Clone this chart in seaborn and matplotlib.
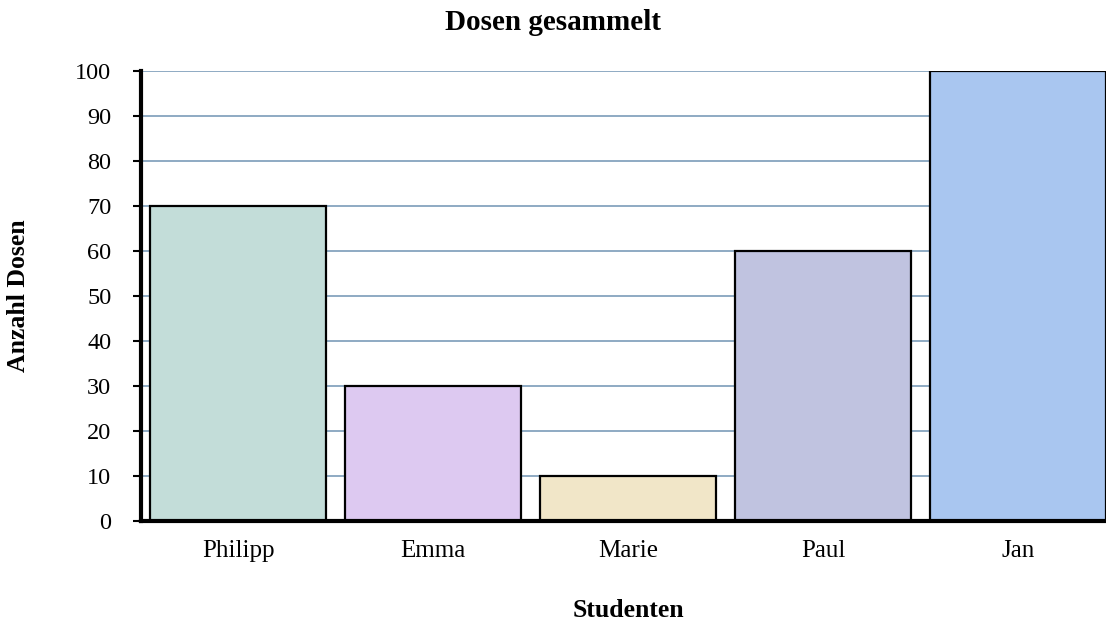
import matplotlib
matplotlib.use("Agg")
import matplotlib.pyplot as plt
import seaborn as sns
import pandas as pd

studenten = ["Philipp", "Emma", "Marie", "Paul", "Jan"]
dosen = [70, 30, 10, 60, 100]
farben = ["#C3DDD9", "#DDC9F1", "#F1E6C8", "#C0C3E0", "#A9C6F0"]
y_ticks = list(range(0, 101, 10))

sns.set_style("white")
plt.rcParams["font.family"] = ["Liberation Serif", "DejaVu Serif"]
plt.rcParams["text.color"] = "black"
plt.rcParams["xtick.color"] = "black"
plt.rcParams["ytick.color"] = "black"
plt.rcParams["axes.labelcolor"] = "black"

df = pd.DataFrame({"Studenten": studenten, "Dosen": dosen})

fig = plt.figure(figsize=(11.06, 6.35), dpi=100)
# Achse reicht rechts etwas über den Bildrand hinaus (wie im Original)
ax = fig.add_axes([140.5 / 1106, 114 / 635, 975 / 1106, 450 / 635])

sns.barplot(data=df, x="Studenten", y="Dosen", hue="Studenten",
            palette=farben, order=studenten, hue_order=studenten,
            width=0.9, saturation=1, edgecolor="black", linewidth=1.6,
            legend=False, ax=ax, zorder=3)

ax.set_xlim(-0.5, 4.5)
ax.set_ylim(0, 100)
ax.set_yticks(y_ticks)
ax.yaxis.grid(True, color="#86A4BE", linewidth=1.3, zorder=0)
ax.set_axisbelow(True)

for s in ["top", "right"]:
    ax.spines[s].set_visible(False)
for s in ["left", "bottom"]:
    ax.spines[s].set_linewidth(3)
    ax.spines[s].set_color("black")
    ax.spines[s].set_zorder(5)

ax.tick_params(axis="y", direction="out", length=6, width=1.5,
               labelsize=17.5, pad=15, left=True)
ax.tick_params(axis="x", length=0, labelsize=18, pad=14)

fig.suptitle("Dosen gesammelt", fontsize=21, fontweight="bold",
             x=0.5, y=1 - 22 / 635, va="center")
ax.set_xlabel("Studenten", fontsize=18.5, fontweight="bold", labelpad=26)
ax.set_ylabel("Anzahl Dosen", fontsize=18.5, fontweight="bold", labelpad=32.5)

fig.savefig("out.png", dpi=100)
